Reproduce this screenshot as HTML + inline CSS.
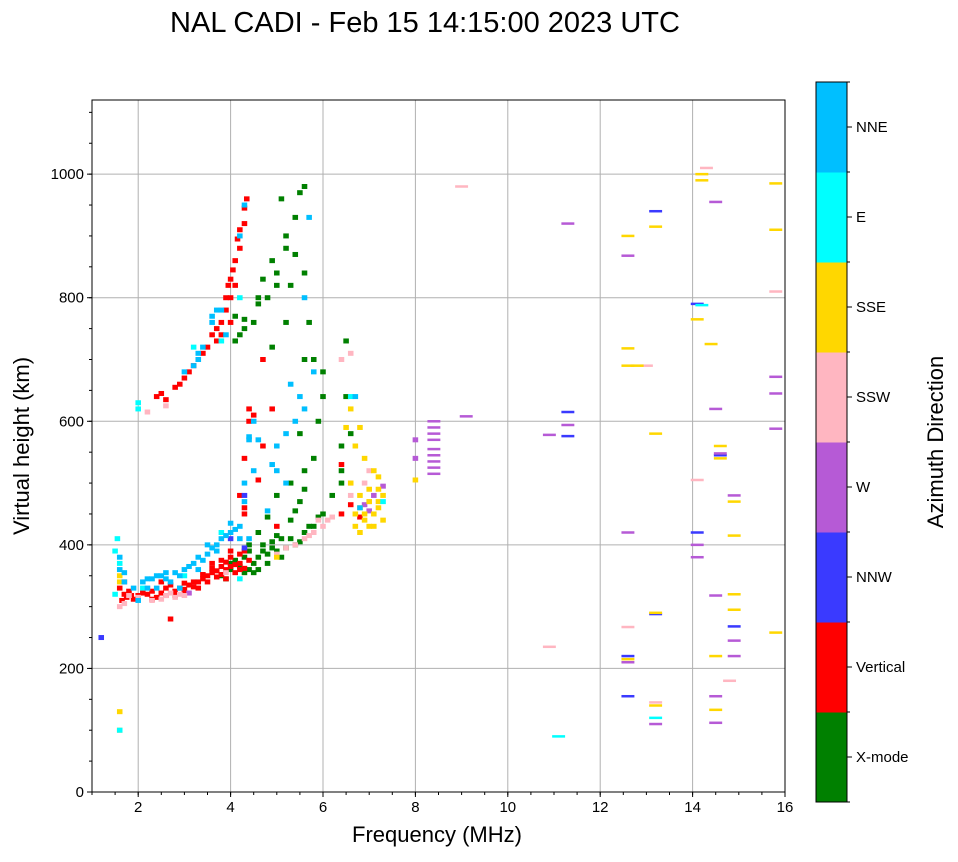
<!DOCTYPE html>
<html><head><meta charset="utf-8"><style>
body{margin:0;background:#fff;font-family:"Liberation Sans",sans-serif}
</style></head><body>
<svg id="chart" width="958" height="857" xmlns="http://www.w3.org/2000/svg" font-family="Liberation Sans, sans-serif">
<text x="425" y="32" font-size="29" text-anchor="middle">NAL CADI - Feb 15 14:15:00 2023 UTC</text>
<g id="grid"></g>
<g id="marks"></g>
<rect x="92" y="100" width="693" height="692" fill="none" stroke="#000" stroke-width="1"/>
<g id="axes"></g>
<text x="437" y="842" font-size="22" text-anchor="middle">Frequency (MHz)</text>
<text transform="translate(29,446) rotate(-90)" font-size="22" text-anchor="middle">Virtual height (km)</text>
<g id="cbar"></g>
<text transform="translate(943,442) rotate(-90)" font-size="22" text-anchor="middle">Azimuth Direction</text>
</svg>
<script>
const modeNames=["X-mode","Vertical","NNW","W","SSW","SSE","E","NNE"];
const modeColors=["#008000","#ff0000","#3a3aff","#b65ad6","#ffb6c1","#ffd700","#00ffff","#00bfff"];
const xTicks=[2,4,6,8,10,12,14,16];
const yTicks=[0,200,400,600,800,1000];
const xmodePts=[[3.8,350],[4.0,360],[4.2,365],[4.4,360],[4.5,370],[4.6,380],[4.8,385],[5.0,390],[5.2,395],[5.4,400],[5.6,420],[5.8,430],[6.0,450],[4.4,390],[4.7,400],[4.6,420],[5.0,415],[5.3,440],[5.5,470],[5.3,500],[5.6,520],[5.8,540],[5.5,580],[5.9,600],[6.0,640],[6.0,680],[5.6,700],[6.2,480],[6.4,500],[6.4,520],[6.4,560],[6.6,580],[6.5,640],[6.5,730],[4.1,730],[4.2,740],[4.3,750],[4.1,770],[4.5,760],[4.6,790],[4.8,800],[4.7,830],[5.0,840],[4.9,860],[5.2,880],[5.2,900],[5.4,930],[5.1,960],[5.5,970],[5.6,980],[5.3,820],[5.6,840],[5.0,820],[5.7,760],[5.8,700],[5.2,760],[4.9,720],[4.0,370],[4.3,355],[4.9,405],[5.1,380],[3.9,345],[4.1,375],[4.3,380],[4.5,355],[4.7,390],[4.9,395],[5.1,410],[5.3,410],[5.5,405],[5.7,430],[5.9,445],[4.4,400],[4.6,360],[4.8,370],[5.4,455],[5.6,490],[5.0,480],[4.8,445],[4.3,765],[4.6,800],[5.4,870]];
const verticalPts=[[1.6,330],[1.7,320],[1.75,315],[1.8,325],[1.9,312],[2.0,318],[2.2,320],[2.4,315],[2.5,322],[2.6,318],[2.8,325],[2.9,330],[3.0,328],[3.1,335],[3.2,332],[3.3,340],[3.4,345],[3.5,350],[3.6,355],[3.7,358],[3.8,352],[3.9,360],[4.0,365],[4.1,355],[4.2,370],[4.3,362],[3.6,370],[3.8,375],[4.0,380],[4.3,390],[4.2,360],[3.9,345],[3.0,338],[2.7,335],[2.3,325],[2.5,340],[1.7,340],[2.4,640],[2.5,645],[2.6,635],[2.8,655],[2.9,660],[3.0,670],[3.2,690],[3.3,700],[3.4,710],[3.6,740],[3.7,750],[3.8,760],[3.9,780],[4.0,800],[3.95,820],[4.0,830],[4.05,845],[4.1,860],[4.2,880],[4.2,910],[4.3,920],[4.3,945],[4.35,960],[4.0,760],[3.7,730],[4.4,600],[4.5,610],[4.4,620],[4.7,700],[4.9,620],[4.6,505],[4.7,560],[4.3,540],[4.2,480],[4.3,460],[4.3,450],[5.0,430],[6.4,450],[6.6,465],[6.8,445],[6.4,530],[2.7,280],[1.65,310],[1.85,318],[2.1,322],[2.3,312],[2.6,330],[2.8,318],[3.0,322],[3.2,340],[3.4,352],[3.5,340],[3.7,348],[3.8,365],[3.9,372],[4.1,368],[4.2,385],[4.4,375],[3.3,330],[3.6,362],[4.0,390],[3.8,740],[3.9,800],[4.1,820],[3.5,720],[3.1,680],[4.15,895]];
const nnwPts=[[1.2,250],[13.2,940],[11.3,615],[11.3,576],[12.6,220],[12.6,155],[14.1,420],[14.1,790],[13.2,288],[14.9,268],[14.6,545],[4.0,410],[4.3,395],[4.3,480]];
const wPts=[[8.4,515],[8.4,525],[8.4,535],[8.4,545],[8.4,555],[8.4,570],[8.4,580],[8.4,590],[8.4,600],[8.0,570],[8.0,540],[7.3,495],[7.0,455],[9.1,608],[10.9,578],[11.3,920],[11.3,594],[12.6,420],[12.6,868],[14.1,400],[14.1,380],[14.5,620],[14.5,955],[14.5,318],[14.5,155],[14.5,112],[14.6,548],[14.9,480],[14.9,245],[14.9,220],[15.8,672],[15.8,645],[15.8,588],[13.2,110],[12.6,210],[7.1,480],[6.9,465],[3.1,322]];
const sswPts=[[1.6,300],[1.8,318],[2.0,315],[2.3,310],[2.6,318],[2.9,320],[5.0,385],[5.2,395],[5.4,400],[5.6,410],[5.8,420],[6.0,430],[5.9,440],[6.2,445],[6.6,480],[7.0,470],[6.9,500],[6.6,500],[6.4,700],[6.6,710],[7.0,520],[9.0,980],[10.9,235],[12.6,267],[13.2,145],[14.1,505],[14.3,1010],[14.8,180],[13.0,690],[2.2,615],[2.6,625],[15.8,810],[2.2,330],[2.8,315],[2.5,312],[2.7,322],[3.0,318],[1.7,305],[5.7,415],[6.1,440],[3.9,355]];
const ssePts=[[6.7,430],[6.8,420],[6.9,440],[7.0,430],[7.1,450],[7.2,460],[7.3,480],[7.0,470],[6.8,480],[6.6,500],[6.9,540],[7.2,510],[6.7,560],[6.8,590],[6.6,620],[7.2,490],[7.3,440],[7.1,520],[8.0,505],[1.6,130],[1.6,100],[5.0,380],[12.6,900],[12.6,718],[12.6,690],[12.8,690],[13.2,915],[13.2,580],[13.2,290],[12.6,215],[13.2,140],[14.1,765],[14.2,990],[14.2,1000],[14.4,725],[14.6,560],[14.6,540],[14.9,470],[14.9,415],[14.9,320],[14.9,295],[14.5,220],[14.5,133],[15.8,985],[15.8,910],[15.8,258],[1.6,350],[6.9,450],[7.0,490],[7.2,470],[6.8,460],[6.7,450],[7.1,430],[6.5,590],[1.6,340]];
const ePts=[[1.5,390],[1.55,410],[1.6,100],[2.0,620],[2.0,630],[3.2,720],[3.8,730],[4.2,800],[6.6,640],[7.3,470],[11.1,90],[13.2,120],[14.2,788],[2.1,330],[1.5,320],[1.6,370],[3.0,350],[3.8,420],[4.2,345]];
const nnePts=[[1.6,380],[1.6,360],[1.7,340],[1.9,330],[2.0,310],[2.2,330],[2.3,345],[2.5,350],[2.6,345],[2.8,355],[3.0,360],[3.2,370],[3.3,380],[3.5,385],[3.7,400],[3.8,410],[4.0,420],[4.2,430],[4.0,435],[4.3,470],[4.3,500],[4.5,520],[4.6,570],[4.9,530],[5.0,560],[5.2,580],[5.4,600],[5.6,620],[5.5,640],[5.3,660],[5.8,680],[5.2,500],[5.0,520],[4.8,455],[3.4,720],[3.3,700],[3.0,680],[3.2,690],[3.6,760],[3.8,780],[3.9,740],[4.2,900],[4.3,950],[5.7,930],[5.6,800],[4.4,570],[6.7,640],[6.8,460],[2.9,330],[2.4,330],[1.7,355],[2.1,340],[2.4,350],[2.7,340],[2.9,350],[3.1,365],[3.3,360],[3.4,375],[3.6,395],[3.7,390],[3.9,415],[4.1,425],[4.2,410],[4.4,410],[3.5,400],[2.6,355],[2.2,345],[3.3,710],[3.6,770],[3.7,780],[4.4,575],[4.5,600]];
const series=[xmodePts,verticalPts,nnwPts,wPts,sswPts,ssePts,ePts,nnePts];

const NS="http://www.w3.org/2000/svg";
const X0=92,X1=785,Y0=792,Y1=100,FMIN=1,FMAX=16,HMIN=0,HMAX=1120;
function xs(f){return X0+(f-FMIN)/(FMAX-FMIN)*(X1-X0);}
function ys(h){return Y0-(h-HMIN)/(HMAX-HMIN)*(Y0-Y1);}
function mk(tag,attrs,parent){const e=document.createElementNS(NS,tag);for(const k in attrs)e.setAttribute(k,attrs[k]);parent.appendChild(e);return e;}
const grid=document.getElementById('grid'),axes=document.getElementById('axes'),marks=document.getElementById('marks'),cbar=document.getElementById('cbar');
xTicks.forEach(t=>{const x=xs(t);
 const g=mk('line',{x1:x,x2:x,y1:Y1,y2:Y0,stroke:'#b0b0b0','stroke-width':1},grid);
 
 
 mk('line',{x1:x,x2:x,y1:Y0,y2:Y0+5,stroke:'#000'},axes);
 const tx=mk('text',{x:x,y:Y0+20,'font-size':15,'text-anchor':'middle'},axes);tx.textContent=t;
 
 
});
for(let f=1;f<=16;f+=0.5){mk('line',{x1:xs(f),x2:xs(f),y1:Y0,y2:Y0+3,stroke:'#000'},axes);}
yTicks.forEach(t=>{const y=ys(t);
 if(t>0){const g=mk('line',{x1:X0,x2:X1,y1:y,y2:y,stroke:'#b0b0b0','stroke-width':1},grid);
 
 }
 mk('line',{x1:X0-5,x2:X0,y1:y,y2:y,stroke:'#000'},axes);
 const tx=mk('text',{x:X0-8,y:y+5,'font-size':15,'text-anchor':'end'},axes);tx.textContent=t;
 
 
});
for(let h=0;h<=1100;h+=50){mk('line',{x1:X0-3,x2:X0,y1:ys(h),y2:ys(h),stroke:'#000'},axes);}
series.forEach((pts,m)=>{pts.forEach(p=>{
 const wide=p[0]>8.2;const w=wide?0.28:0.12;const hh=wide?2.5:5;
 const r=mk('rect',{x:xs(p[0]-w/2),y:ys(p[1])-hh/2,width:xs(FMIN+w)-X0,height:hh,fill:modeColors[m]},marks);
 
 
});});
const CX=816,CW=31,CT=82,CB=802,bh=(CB-CT)/modeNames.length;
modeNames.forEach((n,i)=>{const y=CB-(i+1)*bh;
 const r=mk('rect',{x:CX,y:y,width:CW,height:bh+0.5,fill:modeColors[i]},cbar);
 
 
 mk('line',{x1:CX+CW,x2:CX+CW+5,y1:y+bh/2,y2:y+bh/2,stroke:'#000'},cbar);
 const t=mk('text',{x:CX+CW+9,y:y+bh/2+5,'font-size':15},cbar);t.textContent=n;
 
 
});
for(let i=0;i<=8;i++){mk('line',{x1:CX+CW,x2:CX+CW+3,y1:CT+i*bh,y2:CT+i*bh,stroke:'#000'},cbar);}
mk('rect',{x:CX,y:CT,width:CW,height:CB-CT,fill:'none',stroke:'#000'},cbar);
</script>
</body></html>
